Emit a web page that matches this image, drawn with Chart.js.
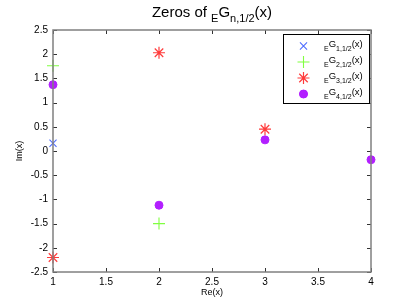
<!DOCTYPE html>
<html>
<head>
<meta charset="utf-8">
<script src="https://cdn.jsdelivr.net/npm/chart.js@4/dist/chart.umd.min.js"></script>
<style>
  html, body { margin: 0; padding: 0; background: #fff; }
  #wrap { width: 409px; height: 307px; }
</style>
</head>
<body>
<div id="wrap"><canvas id="c" width="409" height="307"></canvas></div>
<script>
// ── Data ───────────────────────────────────────────────────────────────────
const xTicks = [1, 1.5, 2, 2.5, 3, 3.5, 4];
const yTicks = [-2.5, -2, -1.5, -1, -0.5, 0, 0.5, 1, 1.5, 2, 2.5];

const g1Re = [1];
const g1Im = [0.16];
const g2Re = [1, 2];
const g2Im = [1.76, -1.50];
const g3Re = [1, 2, 3];
const g3Im = [-2.20, 2.03, 0.45];
const g4Re = [1, 2, 3, 4];
const g4Im = [1.37, -1.12, 0.23, -0.18];

// label parts: [text, isSubscript]
const legendNames = [
  [["E", 1], ["G", 0], ["1,1/2", 1], ["(x)", 0]],
  [["E", 1], ["G", 0], ["2,1/2", 1], ["(x)", 0]],
  [["E", 1], ["G", 0], ["3,1/2", 1], ["(x)", 0]],
  [["E", 1], ["G", 0], ["4,1/2", 1], ["(x)", 0]],
];
const titleParts = [["Zeros of ", 0], ["E", 1], ["G", 0], ["n,1/2", 1], ["(x)", 0]];
const xTitle = "Re(x)";
const yTitle = "Im(x)";

const FONT = "'Liberation Sans', Arial, sans-serif";

function pts(re, im) { return re.map((x, i) => ({ x, y: im[i] })); }

const series = [
  { data: pts(g1Re, g1Im), style: "crossRot", color: "#4f6dff", r: 5, fill: false, bw: 1.1 },
  { data: pts(g2Re, g2Im), style: "cross",    color: "#80ff40", r: 6, fill: false, bw: 1.1 },
  { data: pts(g3Re, g3Im), style: "star",     color: "#ff3b3b", r: 6, fill: false, bw: 1.2 },
  { data: pts(g4Re, g4Im), style: "circle",   color: "#b21fff", r: 4, fill: true,  bw: 1 },
];

// ── Helpers ────────────────────────────────────────────────────────────────

function richWidth(ctx, parts, size, subSize) {
  let w = 0;
  parts.forEach(([t, sub]) => {
    ctx.font = `${sub ? subSize : size}px ${FONT}`;
    w += ctx.measureText(t).width;
  });
  return w;
}

function drawRich(ctx, parts, x, y, size, subSize, subDrop) {
  ctx.textAlign = "left";
  ctx.textBaseline = "alphabetic";
  ctx.fillStyle = "#000";
  parts.forEach(([t, sub]) => {
    ctx.font = `${sub ? subSize : size}px ${FONT}`;
    ctx.fillText(t, x, sub ? y + subDrop : y);
    x += ctx.measureText(t).width;
  });
}

// ── Plugin: title, axis titles, inward ticks, legend ──────────────────────

const matlabLook = {
  id: "matlabLook",
  afterDraw(chart) {
    const ctx = chart.ctx;
    const a = chart.chartArea;
    const xs = chart.scales.x, ys = chart.scales.y;
    ctx.save();

    // inward tick marks on all four sides
    ctx.strokeStyle = "#333";
    ctx.lineWidth = 1;
    ctx.beginPath();
    xTicks.forEach(v => {
      const px = Math.round(xs.getPixelForValue(v)) + 0.5;
      ctx.moveTo(px, a.bottom); ctx.lineTo(px, a.bottom - 4);
      ctx.moveTo(px, a.top);    ctx.lineTo(px, a.top + 4);
    });
    yTicks.forEach(v => {
      const py = Math.round(ys.getPixelForValue(v)) + 0.5;
      ctx.moveTo(a.left, py);  ctx.lineTo(a.left + 4, py);
      ctx.moveTo(a.right, py); ctx.lineTo(a.right - 4, py);
    });
    ctx.stroke();

    // box
    ctx.strokeStyle = "#808080";
    ctx.lineWidth = 1.5;
    ctx.strokeRect(a.left, a.top, a.right - a.left, a.bottom - a.top);

    // title
    const tw = richWidth(ctx, titleParts, 15, 11);
    drawRich(ctx, titleParts, (a.left + a.right) / 2 - tw / 2, 17, 15, 11, 5);

    // axis titles
    ctx.fillStyle = "#000";
    ctx.font = `9px ${FONT}`;
    ctx.textAlign = "center";
    ctx.textBaseline = "middle";
    ctx.fillText(xTitle, (a.left + a.right) / 2, 293);
    ctx.save();
    ctx.translate(20, (a.top + a.bottom) / 2);
    ctx.rotate(-Math.PI / 2);
    ctx.fillText(yTitle, 0, 0);
    ctx.restore();

    // legend
    const lx = 283.5, ly = 34.5, lw = 86, lh = 69;
    ctx.fillStyle = "#fff";
    ctx.fillRect(lx, ly, lw, lh);
    ctx.strokeStyle = "#000";
    ctx.lineWidth = 1;
    ctx.strokeRect(lx, ly, lw, lh);
    series.forEach((s, i) => {
      const cy = 46 + i * 16;
      ctx.strokeStyle = s.color;
      ctx.fillStyle = s.color;
      ctx.lineWidth = s.bw;
      Chart.helpers.drawPoint(ctx, { pointStyle: s.style, radius: s.r, rotation: 0, borderWidth: s.bw }, 303.5, cy);
      if (s.fill) ctx.fill();
      drawRich(ctx, legendNames[i], 324, cy + 1, 9.5, 7, 4);
    });

    ctx.restore();
  }
};

// ── Chart ──────────────────────────────────────────────────────────────────

new Chart(document.getElementById("c"), {
  type: "scatter",
  data: {
    datasets: series.map(s => ({
      data: s.data,
      pointStyle: s.style,
      pointRadius: s.r,
      pointHoverRadius: s.r,
      borderColor: s.color,
      backgroundColor: s.fill ? s.color : "transparent",
      borderWidth: s.bw,
      clip: false,
    })),
  },
  options: {
    responsive: false,
    animation: false,
    events: [],
    layout: { padding: { top: 30, right: 38, left: 0, bottom: 0 } },
    plugins: { legend: { display: false }, tooltip: { enabled: false }, title: { display: false } },
    scales: {
      x: {
        type: "linear",
        min: 1, max: 4,
        afterBuildTicks: sc => { sc.ticks = xTicks.map(v => ({ value: v })); },
        afterFit: sc => { sc.height = 35; },
        grid: { display: false, drawTicks: false, tickLength: 0 },
        border: { display: false },
        ticks: { color: "#000", font: { family: FONT, size: 10 }, padding: 4, maxRotation: 0,
                 callback: v => String(v) },
      },
      y: {
        type: "linear",
        min: -2.5, max: 2.5,
        afterBuildTicks: sc => { sc.ticks = yTicks.map(v => ({ value: v })); },
        afterFit: sc => { sc.width = 53; },
        grid: { display: false, drawTicks: false, tickLength: 0 },
        border: { display: false },
        ticks: { color: "#000", font: { family: FONT, size: 10 }, padding: 5,
                 callback: v => String(v) },
      },
    },
  },
  plugins: [matlabLook],
});
</script>
</body>
</html>
